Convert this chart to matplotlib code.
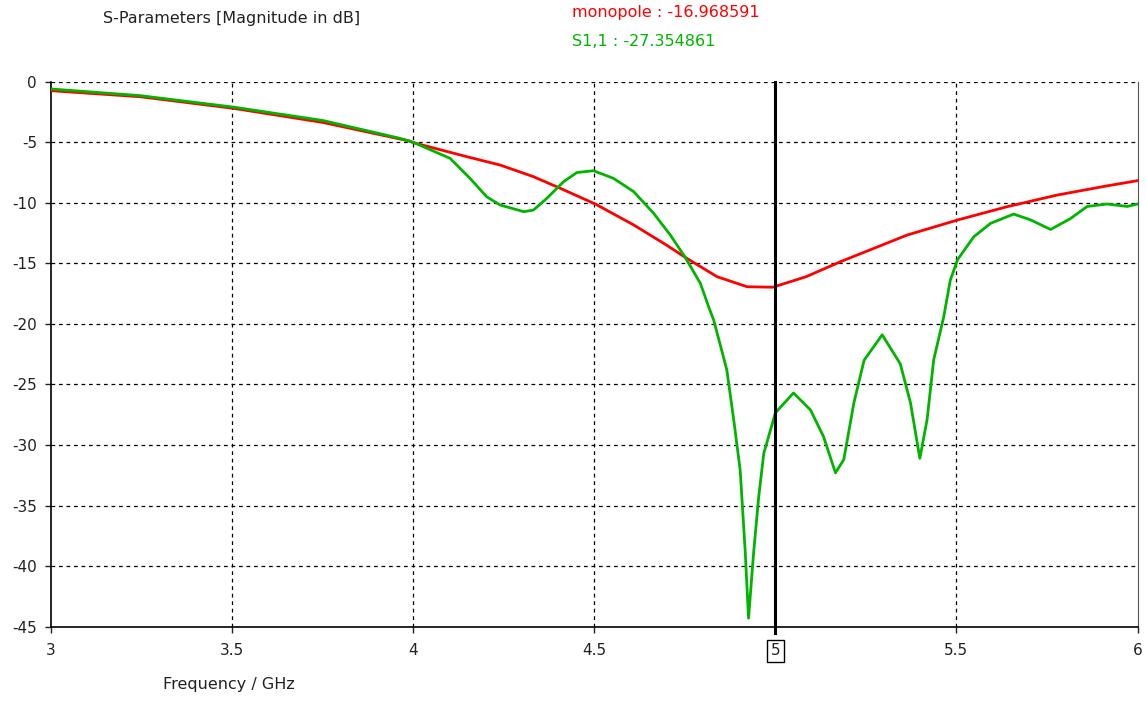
import numpy as np
import matplotlib
matplotlib.use('agg')
import matplotlib.pyplot as plt

# monopole (red) trace
f_mono = [3.0, 3.246, 3.504, 3.75, 3.99, 4.0, 4.148, 4.24, 4.332, 4.406, 4.503, 4.609,
          4.7, 4.751, 4.839, 4.922, 4.993, 5.085, 5.18, 5.272, 5.364, 5.503, 5.64,
          5.778, 5.916, 6.0]
s_mono = [-0.74, -1.24, -2.2, -3.36, -4.9, -5.03, -6.19, -6.88, -7.84, -8.8, -10.1, -11.83,
          -13.5, -14.5, -16.1, -16.93, -16.97, -16.1, -14.86, -13.76, -12.66, -11.42, -10.32,
          -9.36, -8.6, -8.17]

# S1,1 (green) trace
f_s11 = [3.0, 3.246, 3.504, 3.75, 3.964, 4.0, 4.102, 4.157, 4.203, 4.24, 4.305, 4.332,
         4.369, 4.415, 4.452, 4.498, 4.553, 4.609, 4.664, 4.71, 4.751, 4.793, 4.816, 4.83,
         4.866, 4.885, 4.903, 4.917, 4.926, 4.94, 4.954, 4.968, 5.0, 5.05, 5.097, 5.133,
         5.166, 5.189, 5.217, 5.245, 5.295, 5.345, 5.373, 5.399, 5.419, 5.437, 5.465,
         5.483, 5.503, 5.548, 5.594, 5.658, 5.704, 5.76, 5.815, 5.861, 5.916, 5.972, 6.0]
s_s11 = [-0.6, -1.15, -2.1, -3.2, -4.68, -5.0, -6.33, -7.98, -9.5, -10.18, -10.73, -10.6,
         -9.63, -8.26, -7.5, -7.35, -7.98, -9.08, -10.87, -12.66, -14.5, -16.65, -18.6, -19.7,
         -23.8, -27.9, -32.1, -38.9, -44.3, -38.9, -34.3, -30.7, -27.35, -25.7, -27.1, -29.3,
         -32.3, -31.2, -26.5, -23.0, -20.9, -23.3, -26.5, -31.1, -27.9, -23.0, -19.4,
         -16.4, -14.7, -12.8, -11.7, -10.93, -11.4, -12.2, -11.3, -10.3, -10.1, -10.3, -10.1]

xticks = [3, 3.5, 4, 4.5, 5, 5.5, 6]
xticklabels = ['3', '3.5', '4', '4.5', '5', '5.5', '6']
yticks = [0, -5, -10, -15, -20, -25, -30, -35, -40, -45]
marker_f = 5.0

red = '#ff0000'
green = '#00b400'
fs = 11.5

plt.rcParams['font.family'] = ['DejaVu Sans']
plt.rcParams['axes.unicode_minus'] = False
fig = plt.figure(figsize=(11.46, 7.02), dpi=100)
ax = fig.add_axes([0.0445, 0.1073, 0.9481, 0.7763])

ax.plot(f_mono, s_mono, color=red, lw=2, zorder=3)
ax.plot(f_s11, s_s11, color=green, lw=2, zorder=4)
ax.axvline(marker_f, color='black', lw=2.2, zorder=5, ymin=-0.012, clip_on=False)

ax.set_xlim(3, 6)
ax.set_ylim(-45, 0)
ax.set_xticks(xticks)
ax.set_xticklabels(xticklabels)
ax.set_yticks(yticks)
ax.grid(True, color='black', linestyle=(0, (3, 3)), lw=0.9)
# drop gridlines that sit on the frame
ax.get_xgridlines()[0].set_visible(False)
ax.get_xgridlines()[-1].set_visible(False)
ax.get_ygridlines()[-1].set_visible(False)

ax.spines['top'].set_visible(False)
ax.spines['right'].set_color('#555555')
ax.spines['left'].set_linewidth(1.2)
ax.spines['bottom'].set_linewidth(1.2)
ax.tick_params(axis='both', direction='out', length=4, width=1, labelsize=11, colors='#222222')
ax.tick_params(axis='x', pad=8)
ax.tick_params(axis='y', pad=6)

lbl = ax.get_xticklabels()[4]
lbl.set_bbox(dict(facecolor='white', edgecolor='black', boxstyle='square,pad=0.25', lw=1))

fig.text(103 / 1146, 1 - 18 / 702, 'S-Parameters [Magnitude in dB]', fontsize=fs,
         color='#222222', ha='left', va='center')
fig.text(572 / 1146, 1 - 12 / 702, 'monopole : -16.968591', fontsize=fs,
         color=red, ha='left', va='center')
fig.text(572 / 1146, 1 - 42 / 702, 'S1,1 : -27.354861', fontsize=fs,
         color=green, ha='left', va='center')
fig.text(163 / 1146, 1 - 685 / 702, 'Frequency / GHz', fontsize=fs,
         color='#222222', ha='left', va='center')

fig.savefig('out.png', dpi=100)
